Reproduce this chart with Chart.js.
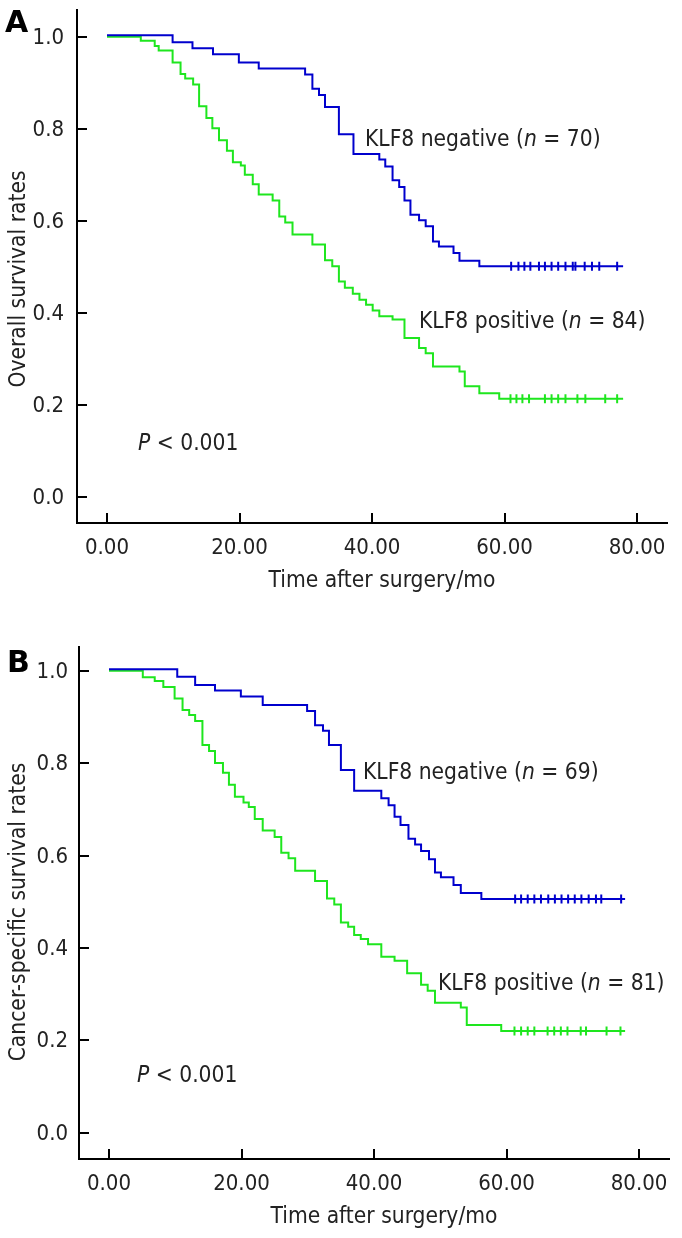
<!DOCTYPE html>
<html>
<head>
<meta charset="utf-8">
<script src="https://cdn.jsdelivr.net/npm/chart.js@4.4.1/dist/chart.umd.min.js"></script>
<style>
    body { margin: 0; background: #fff; }
    canvas { display: block; }
</style>
</head>
<body>
<canvas id="chartA" width="682" height="620"></canvas>
<canvas id="chartB" width="682" height="618"></canvas>
<script>
const FONT = '"DejaVu Sans Condensed", "DejaVu Sans", sans-serif';
const TEXT_COLOR = '#222';
const NEG_COLOR = '#0000cd';
const POS_COLOR = '#1ee61e';

const xTicks = [0, 20, 40, 60, 80];
const yTicks = [0, 0.2, 0.4, 0.6, 0.8, 1.0];

// Panel A: overall survival
const negTimesA = [0, 9.9, 12.9, 16.0, 19.9, 22.9, 29.9, 31.0, 32.0, 32.9, 35.0, 37.2, 41.1, 42.0, 43.1, 44.1, 44.9, 45.8, 47.1, 48.1, 49.2, 50.1, 52.3, 53.2, 56.2, 77.9];
const negSurvA = [1.003, 0.988, 0.975, 0.962, 0.944, 0.931, 0.918, 0.887, 0.873, 0.847, 0.788, 0.745, 0.733, 0.718, 0.688, 0.673, 0.644, 0.613, 0.601, 0.588, 0.555, 0.544, 0.530, 0.513, 0.501, 0.501];
const negCensorA = [61.0, 62.1, 63.0, 63.9, 65.2, 66.1, 67.1, 68.1, 69.2, 70.3, 70.7, 72.1, 73.2, 74.3, 77.0];

const posTimesA = [0, 5.1, 7.2, 7.8, 9.9, 11.1, 11.8, 13.0, 13.9, 15.0, 15.9, 16.9, 18.1, 19.0, 20.2, 20.8, 22.0, 22.9, 25.0, 26.0, 26.9, 28.0, 31.0, 32.9, 34.0, 35.0, 35.9, 37.1, 38.1, 39.1, 40.1, 41.1, 43.1, 44.9, 47.1, 48.1, 49.2, 53.2, 54.0, 56.2, 59.2, 77.9];
const posSurvA = [1.0, 0.991, 0.980, 0.970, 0.944, 0.919, 0.909, 0.896, 0.849, 0.823, 0.801, 0.775, 0.752, 0.727, 0.720, 0.700, 0.679, 0.657, 0.644, 0.609, 0.596, 0.570, 0.548, 0.514, 0.501, 0.468, 0.454, 0.441, 0.428, 0.417, 0.405, 0.392, 0.385, 0.345, 0.323, 0.312, 0.283, 0.272, 0.240, 0.225, 0.213, 0.213];
const posCensorA = [60.9, 61.8, 62.7, 63.7, 66.1, 67.1, 68.1, 69.2, 71.0, 72.2, 75.2, 77.0];

// Panel B: cancer-specific survival
const negTimesB = [0, 10.3, 13.0, 16.0, 19.9, 23.2, 29.9, 31.1, 32.3, 33.2, 35.0, 37.0, 41.1, 42.2, 43.1, 44.0, 45.2, 46.2, 47.1, 48.3, 49.2, 50.1, 52.0, 53.1, 56.2, 77.9];
const negSurvB = [1.003, 0.987, 0.969, 0.957, 0.944, 0.926, 0.913, 0.882, 0.870, 0.839, 0.785, 0.740, 0.724, 0.709, 0.684, 0.666, 0.636, 0.624, 0.610, 0.592, 0.563, 0.553, 0.536, 0.519, 0.506, 0.506];
const negCensorB = [61.3, 62.2, 63.2, 64.2, 65.2, 66.3, 67.3, 68.3, 69.3, 70.3, 71.3, 72.4, 73.5, 74.3, 77.3];

const posTimesB = [0, 5.1, 6.9, 8.2, 9.9, 11.1, 12.1, 13.0, 14.1, 15.1, 16.0, 17.2, 18.1, 19.0, 20.3, 21.1, 22.0, 23.2, 25.0, 26.0, 27.1, 28.1, 31.1, 32.9, 34.0, 35.0, 36.1, 37.0, 38.0, 39.1, 41.1, 43.1, 45.0, 47.1, 48.1, 49.2, 53.1, 54.0, 59.2, 77.9];
const posSurvB = [1.0, 0.986, 0.978, 0.965, 0.940, 0.915, 0.904, 0.891, 0.839, 0.826, 0.800, 0.779, 0.753, 0.727, 0.715, 0.705, 0.679, 0.654, 0.640, 0.606, 0.594, 0.567, 0.545, 0.507, 0.494, 0.455, 0.446, 0.428, 0.419, 0.408, 0.381, 0.372, 0.345, 0.320, 0.307, 0.281, 0.271, 0.233, 0.220, 0.220];
const posCensorB = [61.2, 62.2, 63.2, 64.2, 66.2, 67.2, 68.2, 69.2, 71.2, 72.0, 75.1, 77.2];

// text pieces, odd entries are italic
const negLabelA = ['KLF8 negative (', 'n', ' = 70)'];
const posLabelA = ['KLF8 positive (', 'n', ' = 84)'];
const negLabelB = ['KLF8 negative (', 'n', ' = 69)'];
const posLabelB = ['KLF8 positive (', 'n', ' = 81)'];
const pLabel = ['', 'P', ' < 0.001'];
const xTitle = 'Time after surgery/mo';

const TEXT_SIZE = 22.6;

function toPoints(times, surv) {
    return times.map((t, i) => ({ x: t, y: surv[i] }));
}

function drawParts(ctx, parts, x, y) {
    let cx = x;
    parts.forEach((text, i) => {
        ctx.font = (i % 2 === 1 ? 'italic ' : '') + TEXT_SIZE + 'px ' + FONT;
        ctx.fillText(text, cx, y);
        cx += ctx.measureText(text).width;
    });
}

// inward tick marks plus the free text of each panel
function makeDecor(cfg) {
    return {
        id: 'decor',
        afterDraw(chart) {
            const ctx = chart.ctx;
            const area = chart.chartArea;
            const xs = chart.scales.x;
            const ys = chart.scales.y;
            ctx.save();
            ctx.strokeStyle = '#000';
            ctx.lineWidth = 2;
            ctx.beginPath();
            xs.ticks.forEach(t => {
                const px = Math.round(xs.getPixelForValue(t.value));
                ctx.moveTo(px, area.bottom);
                ctx.lineTo(px, area.bottom - 10);
            });
            ys.ticks.forEach(t => {
                const py = Math.round(ys.getPixelForValue(t.value));
                ctx.moveTo(area.left, py);
                ctx.lineTo(area.left + 10, py);
            });
            ctx.stroke();

            ctx.fillStyle = TEXT_COLOR;
            ctx.textBaseline = 'alphabetic';
            ctx.textAlign = 'left';
            cfg.labels.forEach(l => drawParts(ctx, l.parts, l.x, l.y));

            ctx.textAlign = 'center';
            ctx.font = TEXT_SIZE + 'px ' + FONT;
            ctx.fillText(xTitle, cfg.xTitleX, cfg.xTitleY);

            ctx.save();
            ctx.translate(cfg.yTitleX, cfg.yTitleY);
            ctx.rotate(-Math.PI / 2);
            ctx.fillText(cfg.yTitle, 0, 0);
            ctx.restore();

            ctx.fillStyle = '#000';
            ctx.textAlign = 'left';
            ctx.font = 'bold 30px "DejaVu Sans", sans-serif';
            ctx.fillText(cfg.letter, cfg.letterX, cfg.letterY);
            ctx.restore();
        }
    };
}

function makePanel(canvasId, cfg) {
    const ctx = document.getElementById(canvasId).getContext('2d');
    const censorY = (surv) => surv[surv.length - 1];
    return new Chart(ctx, {
        type: 'line',
        data: {
            datasets: [
                {
                    data: toPoints(cfg.negTimes, cfg.negSurv),
                    borderColor: NEG_COLOR, borderWidth: 2, pointRadius: 0,
                    stepped: 'before', fill: false
                },
                {
                    type: 'scatter',
                    data: cfg.negCensor.map(t => ({ x: t, y: censorY(cfg.negSurv) })),
                    borderColor: NEG_COLOR, backgroundColor: NEG_COLOR, borderWidth: 2,
                    pointStyle: 'line', rotation: 90, pointRadius: 4.5, showLine: false
                },
                {
                    data: toPoints(cfg.posTimes, cfg.posSurv),
                    borderColor: POS_COLOR, borderWidth: 2, pointRadius: 0,
                    stepped: 'before', fill: false
                },
                {
                    type: 'scatter',
                    data: cfg.posCensor.map(t => ({ x: t, y: censorY(cfg.posSurv) })),
                    borderColor: POS_COLOR, backgroundColor: POS_COLOR, borderWidth: 2,
                    pointStyle: 'line', rotation: 90, pointRadius: 4.5, showLine: false
                }
            ]
        },
        options: {
            responsive: false,
            animation: false,
            devicePixelRatio: 1,
            layout: { padding: { left: 0, top: cfg.axisTop, right: 682 - cfg.axisRight, bottom: 0 } },
            plugins: { legend: { display: false }, tooltip: { enabled: false } },
            scales: {
                x: {
                    type: 'linear',
                    min: -4.53,
                    max: 84.57,
                    grid: { display: false, drawTicks: false },
                    border: { display: true, color: '#000', width: 2 },
                    ticks: {
                        padding: 12,
                        color: TEXT_COLOR,
                        font: { family: FONT, size: 22 },
                        maxRotation: 0,
                        callback: v => v.toFixed(2)
                    },
                    afterBuildTicks: scale => { scale.ticks = xTicks.map(v => ({ value: v })); },
                    afterFit: scale => {
                        scale.height = cfg.height - cfg.axisBottom;
                        scale.paddingLeft = 0;
                        scale.paddingRight = 0;
                    }
                },
                y: {
                    type: 'linear',
                    min: cfg.yMin,
                    max: cfg.yMax,
                    grid: { display: false, drawTicks: false },
                    border: { display: true, color: '#000', width: 2 },
                    ticks: {
                        padding: cfg.yPad,
                        labelOffset: 1.5,
                        color: TEXT_COLOR,
                        font: { family: FONT, size: 22 },
                        callback: v => v.toFixed(1)
                    },
                    afterBuildTicks: scale => { scale.ticks = yTicks.map(v => ({ value: v })); },
                    afterFit: scale => {
                        scale.width = cfg.axisX;
                        scale.paddingTop = 0;
                        scale.paddingBottom = 0;
                    }
                }
            }
        },
        plugins: [makeDecor(cfg)]
    });
}

makePanel('chartA', {
    height: 620, axisX: 77, axisRight: 667.3, axisTop: 10, axisBottom: 523,
    yMin: -0.0572, yMax: 1.058, yPad: 13,
    negTimes: negTimesA, negSurv: negSurvA, negCensor: negCensorA,
    posTimes: posTimesA, posSurv: posSurvA, posCensor: posCensorA,
    labels: [
        { parts: negLabelA, x: 365, y: 146 },
        { parts: posLabelA, x: 419, y: 328 },
        { parts: pLabel, x: 138, y: 450 }
    ],
    xTitleX: 382, xTitleY: 587,
    yTitle: 'Overall survival rates', yTitleX: 24.5, yTitleY: 279,
    letter: 'A', letterX: 5, letterY: 32
});

makePanel('chartB', {
    height: 618, axisX: 79, axisRight: 669.3, axisTop: 26.7, axisBottom: 539,
    yMin: -0.057, yMax: 1.052, yPad: 11,
    negTimes: negTimesB, negSurv: negSurvB, negCensor: negCensorB,
    posTimes: posTimesB, posSurv: posSurvB, posCensor: posCensorB,
    labels: [
        { parts: negLabelB, x: 363, y: 159 },
        { parts: posLabelB, x: 438, y: 370 },
        { parts: pLabel, x: 137, y: 461.7 }
    ],
    xTitleX: 384, xTitleY: 603.3,
    yTitle: 'Cancer-specific survival rates', yTitleX: 24.5, yTitleY: 292,
    letter: 'B', letterX: 7, letterY: 52
});
</script>
</body>
</html>
